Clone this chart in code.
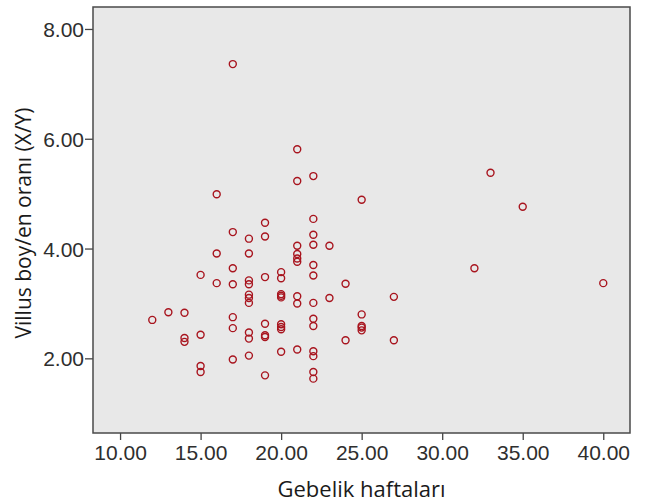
<!DOCTYPE html>
<html>
  <head>
    <title>Villus scatter</title>
    <meta charset="utf-8" />
    <script src="https://cdn.jsdelivr.net/npm/d3@7"></script>
    <style>
      body {
        margin: 0;
        background: #fff;
        font-family: "Open Sans", "Noto Sans", sans-serif;
      }
      .tick text {
        font-size: 21px;
        fill: #2e2e2e;
      }
      .tick line {
        stroke: #444;
        stroke-width: 1.3;
      }
    </style>
  </head>
  <body>
    <script>
      // gestational week of each case
      var weeks = [
        12,
        13,
        14, 14, 14,
        15, 15, 15, 15,
        16, 16, 16,
        17, 17, 17, 17, 17, 17, 17,
        18, 18, 18, 18, 18, 18, 18, 18, 18, 18,
        19, 19, 19, 19, 19, 19, 19,
        20, 20, 20, 20, 20, 20, 20, 20, 20,
        21, 21, 21, 21, 21, 21, 21, 21, 21,
        22, 22, 22, 22, 22, 22, 22, 22, 22, 22, 22, 22, 22,
        23, 23,
        24, 24,
        25, 25, 25, 25, 25,
        27, 27,
        32,
        33,
        35,
        40
      ];

      // villus length/width ratio (X/Y), same order as weeks
      var ratios = [
        2.70,
        2.84,
        2.83, 2.37, 2.30,
        3.52, 2.43, 1.86, 1.75,
        4.99, 3.91, 3.37,
        7.36, 4.30, 3.64, 3.35, 2.75, 2.55, 1.98,
        4.18, 3.91, 3.42, 3.35, 3.16, 3.10, 3.01, 2.47, 2.36, 2.05,
        4.47, 4.22, 3.48, 2.63, 2.42, 2.39, 1.69,
        3.57, 3.46, 3.17, 3.14, 3.11, 2.62, 2.57, 2.53, 2.12,
        5.81, 5.23, 4.05, 3.90, 3.82, 3.76, 3.13, 3.00, 2.16,
        5.32, 4.54, 4.25, 4.07, 3.70, 3.51, 3.01, 2.72, 2.59, 2.13, 2.04, 1.75, 1.63,
        4.05, 3.10,
        3.36, 2.33,
        4.89, 2.80, 2.59, 2.56, 2.51,
        3.12, 2.33,
        3.64,
        5.38,
        4.76,
        3.37
      ];

      var xTicks = [10, 15, 20, 25, 30, 35, 40];
      var yTicks = [2, 4, 6, 8];

      var xTitle = "Gebelik haftaları";
      var yTitle = "Villus boy/en oranı (X/Y)";

      var data = weeks.map(function (w, i) {
        return { week: w, ratio: ratios[i] };
      });

      var width = 657,
        height = 502;
      var plot = { left: 93, right: 630, top: 7, bottom: 433 };

      var svg = d3
        .select("body")
        .append("svg")
        .attr("width", width)
        .attr("height", height);

      var x = d3
        .scaleLinear()
        .domain([8.32, 41.66])
        .range([plot.left, plot.right]);

      var y = d3
        .scaleLinear()
        .domain([0.64, 8.4])
        .range([plot.bottom, plot.top]);

      // plot background
      svg
        .append("rect")
        .attr("x", plot.left)
        .attr("y", plot.top)
        .attr("width", plot.right - plot.left)
        .attr("height", plot.bottom - plot.top)
        .attr("fill", "#e8e8e8");

      var xAxis = svg
        .append("g")
        .attr("transform", "translate(0," + plot.bottom + ")")
        .call(
          d3
            .axisBottom(x)
            .tickValues(xTicks)
            .tickSize(7)
            .tickPadding(5)
            .tickFormat(d3.format(".2f"))
        );
      xAxis.select(".domain").remove();

      var yAxis = svg
        .append("g")
        .attr("transform", "translate(" + plot.left + ",0)")
        .call(
          d3
            .axisLeft(y)
            .tickValues(yTicks)
            .tickSize(8)
            .tickPadding(1)
            .tickFormat(d3.format(".2f"))
        );
      yAxis.select(".domain").remove();
      yAxis.selectAll(".tick text").attr("dy", "0.36em");

      // frame on top of background
      svg
        .append("rect")
        .attr("x", plot.left)
        .attr("y", plot.top)
        .attr("width", plot.right - plot.left)
        .attr("height", plot.bottom - plot.top)
        .attr("fill", "none")
        .attr("stroke", "#4a4a4a")
        .attr("stroke-width", 1.5);

      svg
        .selectAll("circle.pt")
        .data(data)
        .enter()
        .append("circle")
        .attr("class", "pt")
        .attr("cx", function (d) {
          return x(d.week);
        })
        .attr("cy", function (d) {
          return y(d.ratio);
        })
        .attr("r", 3.5)
        .attr("fill", "none")
        .attr("stroke", "#a8141e")
        .attr("stroke-width", 1.4);

      svg
        .append("text")
        .attr("x", (plot.left + plot.right) / 2)
        .attr("y", 497)
        .attr("text-anchor", "middle")
        .style("font-size", "22px")
        .style("fill", "#1a1a1a")
        .text(xTitle);

      svg
        .append("text")
        .attr("transform", "translate(31," + 223 + ") rotate(-90)")
        .attr("text-anchor", "middle")
        .style("font-size", "21px")
        .style("fill", "#1a1a1a")
        .text(yTitle);
    </script>
  </body>
</html>
